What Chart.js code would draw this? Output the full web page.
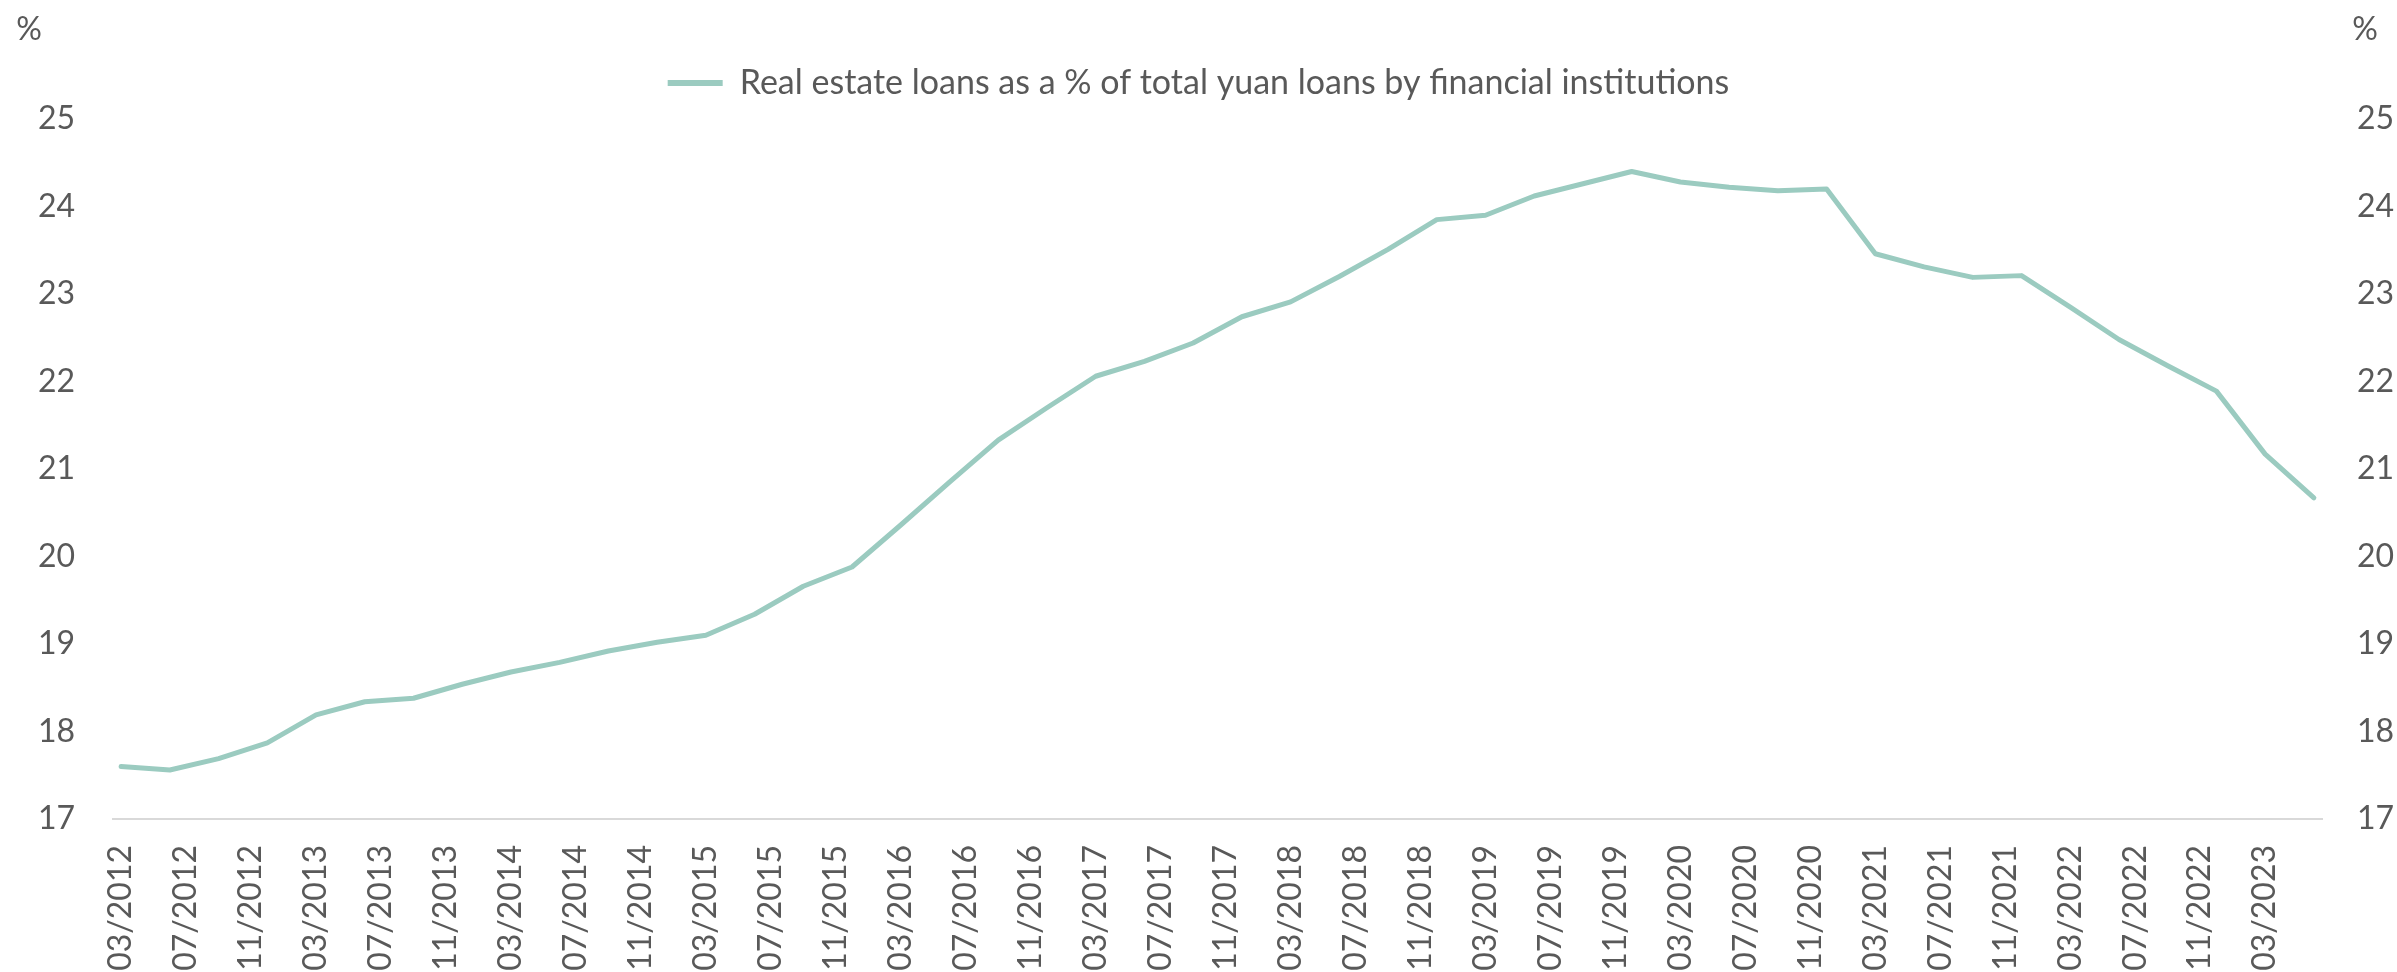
<!DOCTYPE html>
<html>
<head>
<meta charset="utf-8">
<script src="https://cdn.jsdelivr.net/npm/chart.js@4.4.0/dist/chart.umd.min.js"></script>
<style>
  html, body { margin: 0; padding: 0; background: #ffffff; }
  canvas { display: block; }
</style>
</head>
<body>
<canvas id="c" width="2397" height="972"></canvas>
<script>
// ---- Data ----
const seriesName = 'Real estate loans as a % of total yuan loans by financial institutions';

const quarterDates = [
  '03/2012','06/2012','09/2012','12/2012',
  '03/2013','06/2013','09/2013','12/2013',
  '03/2014','06/2014','09/2014','12/2014',
  '03/2015','06/2015','09/2015','12/2015',
  '03/2016','06/2016','09/2016','12/2016',
  '03/2017','06/2017','09/2017','12/2017',
  '03/2018','06/2018','09/2018','12/2018',
  '03/2019','06/2019','09/2019','12/2019',
  '03/2020','06/2020','09/2020','12/2020',
  '03/2021','06/2021','09/2021','12/2021',
  '03/2022','06/2022','09/2022','12/2022',
  '03/2023','06/2023'
];

const realEstateShare = [
  17.60, 17.56, 17.69, 17.87,
  18.19, 18.34, 18.38, 18.54,
  18.68, 18.79, 18.92, 19.02,
  19.10, 19.34, 19.66, 19.88,
  20.36, 20.85, 21.33, 21.70,
  22.06, 22.23, 22.44, 22.74,
  22.91, 23.20, 23.51, 23.85,
  23.90, 24.12, 24.26, 24.40,
  24.28, 24.22, 24.18, 24.20,
  23.46, 23.31, 23.19, 23.21,
  22.85, 22.48, 22.18, 21.89,
  21.17, 20.67
];

// monthly date axis: 03/2012 .. 06/2023, labelled every 4 months
const axisStart = { year: 2012, month: 3 };
const axisEnd = { year: 2023, month: 6 };
const tickEveryMonths = 4;

const yTicks = [17, 18, 19, 20, 21, 22, 23, 24, 25];
const unitLabel = '%';

// ---- Build monthly categories ----
const monthLabels = [];
for (let y = axisStart.year, m = axisStart.month; y < axisEnd.year || (y === axisEnd.year && m <= axisEnd.month); ) {
  monthLabels.push(String(m).padStart(2, '0') + '/' + y);
  m++; if (m > 12) { m = 1; y++; }
}
const valueByDate = {};
quarterDates.forEach((d, i) => { valueByDate[d] = realEstateShare[i]; });
const monthlyData = monthLabels.map(l => (l in valueByDate ? valueByDate[l] : null));

// ---- Style ----
const lineColor = '#9BCBC0';
const textColor = '#595959';
const fontFamily = 'Lato, "Open Sans", sans-serif';
const tickFontSize = 32;
const legendFontSize = 34;

const unitPlugin = {
  id: 'unitLabels',
  afterDraw(chart) {
    const ctx = chart.ctx;
    ctx.save();
    ctx.font = tickFontSize + 'px ' + fontFamily;
    ctx.fillStyle = textColor;
    ctx.textAlign = 'center';
    ctx.textBaseline = 'middle';
    ctx.fillText(unitLabel, 29, 30);
    ctx.fillText(unitLabel, 2365, 30);
    ctx.restore();
  }
};

new Chart(document.getElementById('c'), {
  type: 'line',
  data: {
    labels: monthLabels,
    datasets: [{
      label: seriesName,
      data: monthlyData,
      borderColor: lineColor,
      backgroundColor: lineColor,
      borderWidth: 5,
      pointRadius: 0,
      pointHoverRadius: 0,
      tension: 0,
      spanGaps: true,
      borderCapStyle: 'round',
      borderJoinStyle: 'round',
      yAxisID: 'y'
    }]
  },
  options: {
    responsive: false,
    animation: false,
    devicePixelRatio: 1,
    layout: { padding: { top: 41, left: 0, right: 0, bottom: 0 } },
    plugins: {
      tooltip: { enabled: false },
      // empty spacer between legend and plot area
      subtitle: {
        display: true,
        text: '',
        weight: 500,
        position: 'top',
        font: { size: 9, lineHeight: 1 },
        padding: { top: 0, bottom: 0 }
      },
      legend: {
        display: true,
        position: 'top',
        labels: {
          color: textColor,
          font: { family: fontFamily, size: legendFontSize },
          boxWidth: 55,
          boxHeight: 6,
          padding: 25,
          generateLabels(chart) {
            const items = Chart.defaults.plugins.legend.labels.generateLabels(chart);
            items.forEach(it => { it.lineWidth = 0; it.fillStyle = lineColor; it.strokeStyle = lineColor; });
            return items;
          }
        }
      }
    },
    scales: {
      x: {
        type: 'category',
        offset: true,
        grid: { display: false, drawTicks: false },
        border: { display: true, color: '#D9D9D9', width: 2 },
        ticks: {
          autoSkip: false,
          minRotation: 90,
          maxRotation: 90,
          padding: 26,
          color: textColor,
          font: { family: fontFamily, size: tickFontSize },
          callback(value, index) {
            return index % tickEveryMonths === 0 ? monthLabels[index] : null;
          }
        },
        afterFit(scale) { scale.height = 153; }
      },
      y: {
        position: 'left',
        min: yTicks[0],
        max: yTicks[yTicks.length - 1],
        grid: { display: false, drawTicks: false },
        border: { display: false },
        afterBuildTicks(scale) { scale.ticks = yTicks.map(v => ({ value: v })); },
        ticks: {
          padding: 38,
          color: textColor,
          font: { family: fontFamily, size: tickFontSize }
        },
        afterFit(scale) { scale.width = 113; }
      },
      y1: {
        position: 'right',
        min: yTicks[0],
        max: yTicks[yTicks.length - 1],
        grid: { display: false, drawTicks: false },
        border: { display: false },
        afterBuildTicks(scale) { scale.ticks = yTicks.map(v => ({ value: v })); },
        ticks: {
          padding: 35,
          color: textColor,
          font: { family: fontFamily, size: tickFontSize }
        },
        afterFit(scale) { scale.width = 75; }
      }
    }
  },
  plugins: [unitPlugin]
});
</script>
</body>
</html>
